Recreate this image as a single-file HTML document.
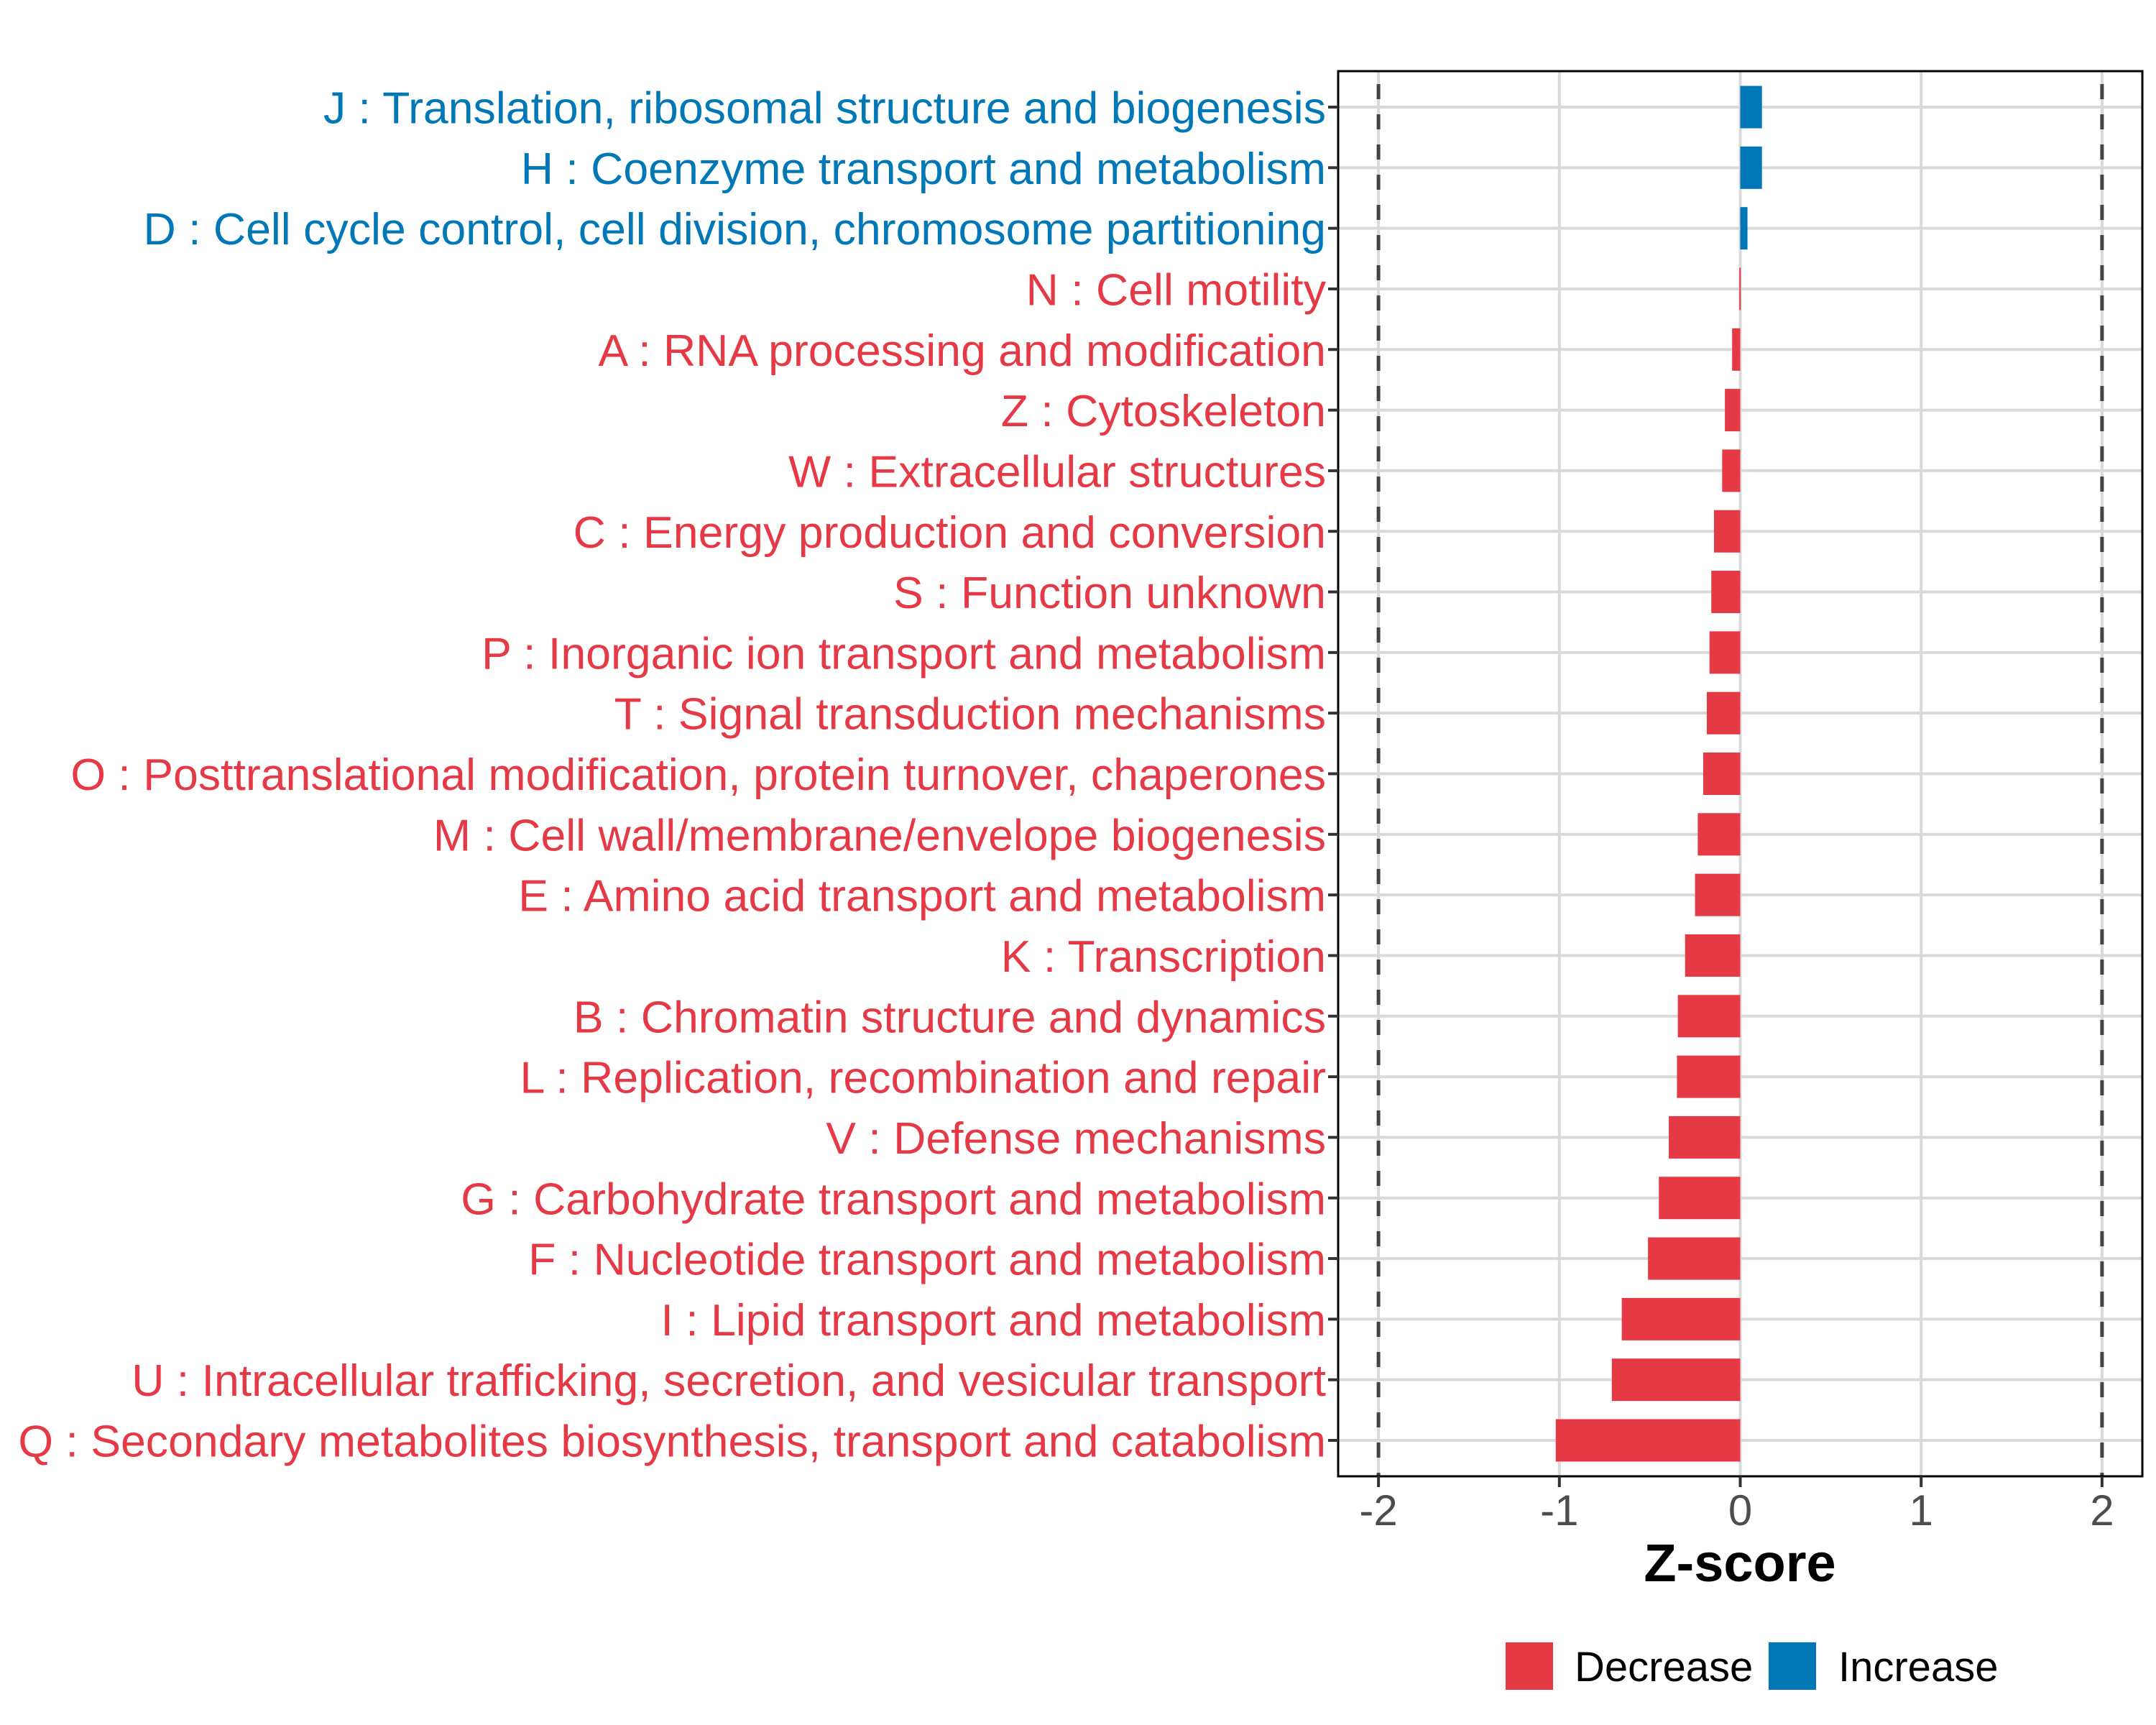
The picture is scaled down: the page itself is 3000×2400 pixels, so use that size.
<!DOCTYPE html>
<html><head><meta charset="utf-8"><style>
html,body{margin:0;padding:0;background:#fff;}
svg{display:block;font-family:"Liberation Sans",Arial,sans-serif;}
</style></head><body>
<svg id="chart" width="3000" height="2400" viewBox="0 0 3000 2400" xmlns="http://www.w3.org/2000/svg">
<rect width="3000" height="2400" fill="#fff"/>
<g id="grid"></g>
<g id="bars"></g>
<g id="refs"></g>
<rect x="1862" y="99" width="1119" height="1955" fill="none" stroke="#000" stroke-width="3"/>
<g id="ylabels"></g>
<g id="xaxis"></g>
<text x="2421" y="2200" text-anchor="middle" font-size="74" font-weight="bold" fill="#000">Z-score</text>
<g>
<rect x="2095" y="2285" width="66" height="66" fill="#E63946"/>
<text x="2191" y="2339" font-size="58" fill="#000">Decrease</text>
<rect x="2461" y="2285" width="66" height="66" fill="#0077B6"/>
<text x="2558" y="2339" font-size="58" fill="#000">Increase</text>
</g>
</svg>
<script>
const categories = [
"J : Translation, ribosomal structure and biogenesis",
"H : Coenzyme transport and metabolism",
"D : Cell cycle control, cell division, chromosome partitioning",
"N : Cell motility",
"A : RNA processing and modification",
"Z : Cytoskeleton",
"W : Extracellular structures",
"C : Energy production and conversion",
"S : Function unknown",
"P : Inorganic ion transport and metabolism",
"T : Signal transduction mechanisms",
"O : Posttranslational modification, protein turnover, chaperones",
"M : Cell wall/membrane/envelope biogenesis",
"E : Amino acid transport and metabolism",
"K : Transcription",
"B : Chromatin structure and dynamics",
"L : Replication, recombination and repair",
"V : Defense mechanisms",
"G : Carbohydrate transport and metabolism",
"F : Nucleotide transport and metabolism",
"I : Lipid transport and metabolism",
"U : Intracellular trafficking, secretion, and vesicular transport",
"Q : Secondary metabolites biosynthesis, transport and catabolism"
];
const zscores = [0.12,0.12,0.04,-0.005,-0.045,-0.085,-0.1,-0.145,-0.16,-0.17,-0.185,-0.205,-0.235,-0.25,-0.305,-0.345,-0.35,-0.395,-0.45,-0.51,-0.655,-0.71,-1.02];
const xTicks = [-2,-1,0,1,2];
const xTickLabels = ["-2","-1","0","1","2"];
const refLines = [-2,2];

const NS="http://www.w3.org/2000/svg";
const X0=2421.5, UNIT=251.7, Y0=149, STEP=(2004-149)/22, BARH=59;
const PL=1862, PR=2981, PT=99, PB=2054;
const RED="#E63946", BLUE="#0077B6";
function xs(v){return X0+v*UNIT;}
function ys(i){return Y0+i*STEP;}
function mk(tag,attrs,parent){const e=document.createElementNS(NS,tag);for(const k in attrs)e.setAttribute(k,attrs[k]);parent.appendChild(e);return e;}
const grid=document.getElementById('grid'),bars=document.getElementById('bars'),refs=document.getElementById('refs'),yl=document.getElementById('ylabels'),xa=document.getElementById('xaxis');

categories.forEach((c,i)=>{
  const l=mk('line',{x1:PL,x2:PR,y1:ys(i),y2:ys(i),stroke:"#D9D9D9","stroke-width":4},grid);
  
  
});
xTicks.forEach((t,i)=>{
  const l=mk('line',{x1:xs(t),x2:xs(t),y1:PT,y2:PB,stroke:"#D9D9D9","stroke-width":4},grid);
  
  
  const tk=mk('line',{x1:xs(t),x2:xs(t),y1:PB,y2:PB+15,stroke:"#333","stroke-width":4},xa);
  
  
  const tx=mk('text',{x:xs(t),y:2122,"text-anchor":"middle","font-size":60,fill:"#4D4D4D"},xa);
  tx.textContent=xTickLabels[i];
  
  
});
zscores.forEach((v,i)=>{
  const x1=Math.min(xs(0),xs(v)), w=Math.abs(xs(v)-xs(0));
  const r=mk('rect',{x:x1,y:ys(i)-BARH/2,width:Math.max(w,2),height:BARH,fill:v>=0?BLUE:RED},bars);
  
  
});
refLines.forEach(v=>{
  const l=mk('line',{x1:xs(v),x2:xs(v),y1:PT,y2:PB,stroke:"#444","stroke-width":5,"stroke-dasharray":"21 21","stroke-dashoffset":"-18"},refs);
  
  
});
const labels=[];
categories.forEach((c,i)=>{
  const tk=mk('line',{x1:PL-14,x2:PL,y1:ys(i),y2:ys(i),stroke:"#333","stroke-width":4},yl);
  
  
  const t=mk('text',{x:1845,y:ys(i)+23,"text-anchor":"end","font-size":64,fill:zscores[i]>=0?BLUE:RED},yl);
  t.textContent=c;
  
  
  labels.push(t);
});
// fit font so the longest label spans the reference width
try{
  let maxW=0;labels.forEach(t=>{maxW=Math.max(maxW,t.getComputedTextLength());});
  if(maxW>0){const fs=64*1820/maxW;labels.forEach(t=>{t.setAttribute('font-size',fs.toFixed(1));t.setAttribute('y',(parseFloat(t.getAttribute('y'))-23+fs*0.36).toFixed(1));});}
}catch(e){}
</script>
</body></html>
